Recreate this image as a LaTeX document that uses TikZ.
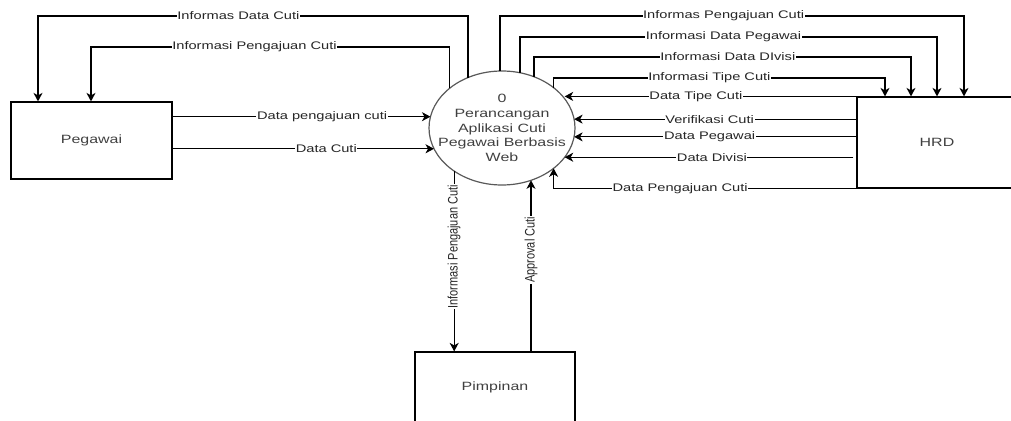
\documentclass[tikz,border=0pt]{standalone}
\usepackage{fontspec}
\setmainfont{Liberation Sans}[FakeStretch=1.33]
\newfontfamily\vfont{Liberation Sans}
\usetikzlibrary{arrows.meta,shapes.geometric}
\tikzset{
flow/.style={line width=1.2pt,-{Stealth[length=8.5pt,width=9pt,inset=2.5pt]}},
lbl/.style={fill=white,inner sep=0.6pt,text=black!85,font=\fontsize{11}{13}\selectfont},
vlbl/.style={lbl,font=\vfont\fontsize{11}{13}\selectfont,rotate=90,yscale=1.25},
ent/.style={draw,line width=1.2pt,minimum width=160pt,inner sep=0pt,text=black!75,font=\fontsize{12}{14}\selectfont},
proc/.style={ellipse,draw=black!65,line width=1.2pt,minimum width=146pt,minimum height=114pt,inner sep=0pt,outer sep=0pt}
}
\begin{document}
\begin{tikzpicture}[x=1pt,y=-1pt]
\useasboundingbox(0,0)rectangle(1011,420);
\node[ent,minimum width=161pt,minimum height=77pt](peg)at(91.5,140.5){Pegawai};
\node[ent,minimum height=91pt](hrd)at(937,142.5){HRD};
\node[ent,minimum height=70pt](pim)at(495,387){Pimpinan};
\node[proc,label={[text=black!75,align=center,font=\fontsize{12}{14.7}\selectfont]center:0\\Perancangan\\Aplikasi Cuti\\Pegawai Berbasis\\Web}](proses)at(502,128){};
\coordinate(k1)at(38,16);\coordinate(k2)at(91,47);
\coordinate(k3)at(964,16);\coordinate(k4)at(937,37);\coordinate(k5)at(911,57);\coordinate(k6)at(885,78);
\coordinate(d1)at([xshift=-3pt]hrd.west);
\draw[flow](proses.124)|-node[lbl,pos=.767]{Informas Data Cuti}(k1)--(k1|-peg.north);
\draw[flow](proses.143.5)|-node[lbl,pos=.772]{Informasi Pengajuan Cuti}(k2)--(k2|-peg.north);
\draw[flow](proses.92)|-node[lbl,pos=.741]{Informas Pengajuan Cuti}(k3)--(k3|-hrd.north);
\draw[flow](proses.72.9)|-node[lbl,pos=.744]{Informasi Data Pegawai}(k4)--(k4|-hrd.north);
\draw[flow](proses.58)|-node[lbl,pos=.757]{Informasi Data DIvisi}(k5)--(k5|-hrd.north);
\draw[flow](proses.38.7)|-node[lbl,pos=.735]{Informasi Tipe Cuti}(k6)--(k6|-hrd.north);
\draw[flow](hrd.north west)--node[lbl,pos=.55]{Data Tipe Cuti}(hrd.north west-|proses.25.8);
\draw[flow](proses.7.9-|hrd.west)--node[lbl,pos=.52]{Verifikasi Cuti}(proses.7.9);
\draw[flow](proses.-7.9-|hrd.west)--node[lbl,pos=.52]{Data Pegawai}(proses.-7.9);
\draw[flow](d1|-proses.-25.8)--node[lbl,pos=.49]{Data Divisi}(proses.-25.8);
\draw[flow](hrd.south west)-|node[lbl,pos=.291]{Data Pengajuan Cuti}(proses.-38.7);
\draw[flow](proses.171.3-|peg.east)--node[lbl,pos=.58]{Data pengajuan cuti}(proses.171.3);
\draw[flow](proses.197.2-|peg.east)--node[lbl,pos=.588]{Data Cuti}(proses.197.2);
\draw[flow](proses.222.9)--node[vlbl,pos=.42]{Informasi Pengajuan Cuti}(proses.222.9|-pim.north);
\draw[flow](pim.north-|proses.-61)--node[vlbl,pos=.593]{Approval Cuti}(proses.-61);
\end{tikzpicture}
\end{document}
